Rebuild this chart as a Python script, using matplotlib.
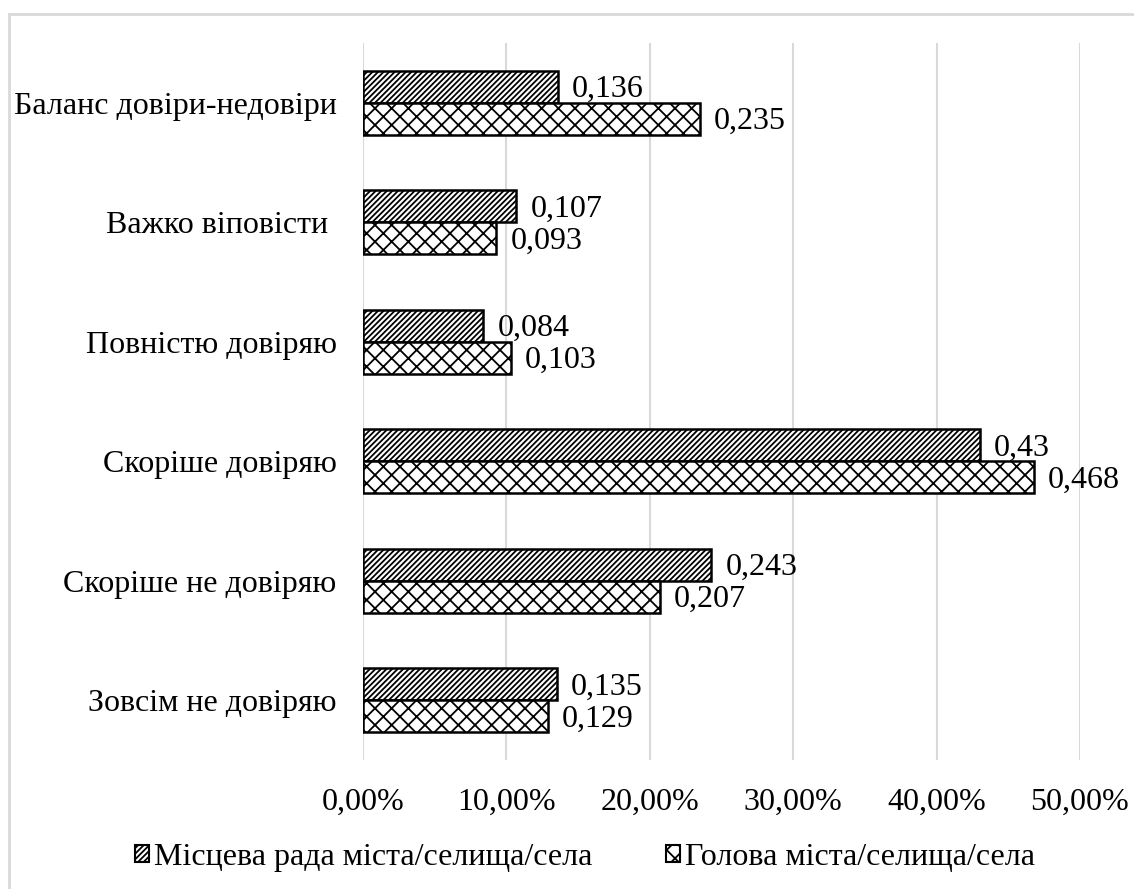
import matplotlib
matplotlib.use("Agg")
import matplotlib.pyplot as plt
from matplotlib.patches import Patch, Rectangle
from matplotlib.ticker import FuncFormatter
import numpy as np

categories = [
    "Зовсім не довіряю",
    "Скоріше не довіряю",
    "Скоріше довіряю",
    "Повністю довіряю",
    "Важко віповісти ",
    "Баланс довіри-недовіри",
]
council = [0.135, 0.243, 0.43, 0.084, 0.107, 0.136]
head = [0.129, 0.207, 0.468, 0.103, 0.093, 0.235]
series_names = ["Місцева рада міста/селища/села", "Голова міста/селища/села"]

plt.rcParams["font.family"] = ["Liberation Serif", "DejaVu Serif"]
plt.rcParams["hatch.linewidth"] = 1.3
FS = 23
GRID = "#d9d9d9"
HATCH_COUNCIL = "//////"
HATCH_HEAD = "xx"

fig = plt.figure(figsize=(11.34, 8.89), dpi=100)
ax = fig.add_axes([363 / 1134, 1 - 760 / 889, 717 / 1134, 717 / 889])

# outer chart frame, running off the right and bottom edges
fig.patches.append(Rectangle((9 / 1134, -0.1), 1.2, 1 - 14 / 889 + 0.1,
                             transform=fig.transFigure, fill=False,
                             edgecolor=GRID, linewidth=2))

y = np.arange(len(categories))
h = 0.268
b1 = ax.barh(y + h / 2, council, height=h, color="white", edgecolor="black",
             linewidth=1.8, hatch=HATCH_COUNCIL, label=series_names[0], zorder=3)
b2 = ax.barh(y - h / 2, head, height=h, color="white", edgecolor="black",
             linewidth=1.8, hatch=HATCH_HEAD, label=series_names[1], zorder=3)

def fmt(v):
    return f"{v:g}".replace(".", ",")

for bars, vals in ((b1, council), (b2, head)):
    for bar, v in zip(bars, vals):
        ax.annotate(fmt(v), (v, bar.get_y() + bar.get_height() / 2),
                    xytext=(10, -2), textcoords="offset points",
                    ha="left", va="center", fontsize=FS)

ax.set_xlim(0, 0.5)
ax.set_ylim(-0.5, len(categories) - 0.5)
ax.set_xticks(np.arange(0, 0.51, 0.1))
ax.xaxis.set_major_formatter(FuncFormatter(lambda v, p: f"{v * 100:.2f}%".replace(".", ",")))
ax.set_yticks(y)
ax.set_yticklabels(categories)
ax.tick_params(axis="y", length=0, pad=19, labelsize=FS)
ax.tick_params(axis="x", length=0, pad=20, labelsize=FS)
ax.grid(axis="x", color=GRID, linewidth=1.5, zorder=0)
ax.set_axisbelow(True)
for s in ax.spines.values():
    s.set_visible(False)

handles = [
    Patch(facecolor="white", edgecolor="black", hatch=HATCH_COUNCIL, linewidth=1.5),
    Patch(facecolor="white", edgecolor="black", hatch=HATCH_HEAD, linewidth=1.5),
]
fig.legend(handles, series_names, loc="center", bbox_to_anchor=(0.516, 1 - 857 / 889),
           ncol=2, frameon=False, fontsize=FS, handlelength=0.45, handleheight=0.45,
           handletextpad=0.15, columnspacing=2.3)

fig.savefig("out.png", dpi=100)
